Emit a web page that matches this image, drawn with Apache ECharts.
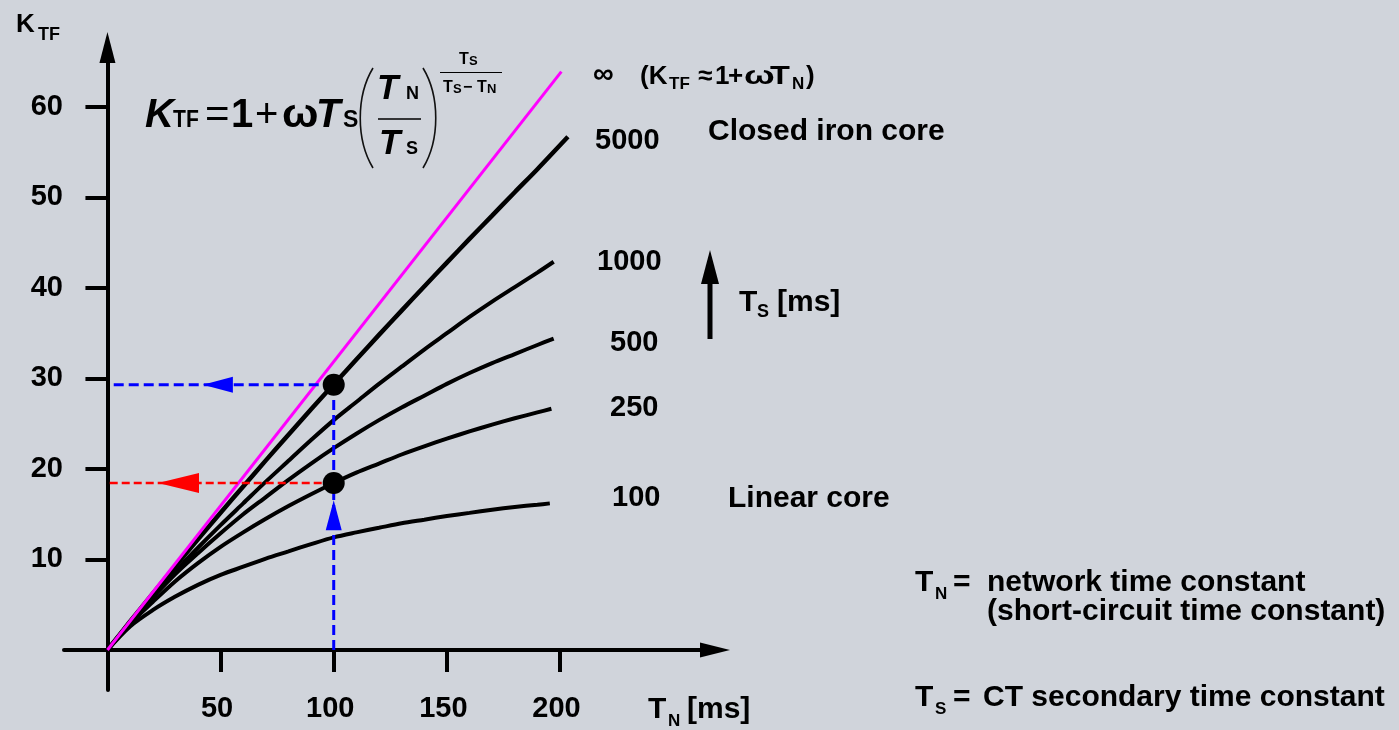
<!DOCTYPE html>
<html>
<head>
<meta charset="utf-8">
<script src="https://cdn.jsdelivr.net/npm/echarts@6/dist/echarts.min.js"></script>
<style>
html,body{margin:0;padding:0;background:#d0d4db;}
#chart{width:1399px;height:730px;}
</style>
</head>
<body>
<div id="chart"></div>
<script>
// ---- data ----
const tnValues = [0,10,20,30,40,50,60,70,80,90,100,110,120,130,140,150,160,170,180,190];
const kTs100  = [0,2.6,4.4,5.9,7.2,8.3,9.2,10.1,10.9,11.7,12.45,13.0,13.5,14.0,14.4,14.8,15.15,15.5,15.8,16.05];
const kTs250  = [0,2.9,5.3,7.6,9.6,11.4,13.0,14.5,15.9,17.2,18.45,19.6,20.6,21.6,22.5,23.35,24.15,24.9,25.6,26.25];
const kTs500  = [0,3.0,5.8,8.4,10.7,12.9,15.0,16.9,18.8,20.6,22.3,23.9,25.4,26.8,28.1,29.4,30.6,31.7,32.7,33.7];
const kTs1000 = [0,3.1,6.0,8.7,11.3,13.8,16.2,18.6,20.9,23.2,25.4,27.4,29.4,31.3,33.2,35.0,36.8,38.5,40.1,41.7];
const kTs5000 = [0,3.15,6.22,9.25,12.23,15.17,18.07,20.95,23.78,26.59,29.35,32.1,34.82,37.5,40.17,42.8,45.42,48.0,50.58,53.12];
const curveEndTn = [195.5,196.2,197.2,197.2,203.5];
const curveEndK  = [16.2,26.65,34.4,42.9,56.7];
const tsLabels = ['100','250','500','1000','5000'];
const infLineTn = [0,200.6];
const infLineK  = [0,63.9];
const xTickValues = [50,100,150,200];
const yTickValues = [10,20,30,40,50,60];
const examplePoints = [[100,29.3],[100,18.45]];   // black dots
const readTn = 100;

const FONT = '"Liberation Sans", Arial, Helvetica, sans-serif';

function curve(vals, i){
  const d = tnValues.map((t,j)=>[t, vals[j]]);
  d.push([curveEndTn[i], curveEndK[i]]);
  return d;
}
function txt(s, x, base, size, opt){
  opt = opt || {};
  const el = {type:'text', x:x, y: base - 0.31*size, silent:true, z:100,
    style:{text:s, font:(opt.italic?'italic ':'') + (opt.weight||'bold') + ' ' + size + 'px ' + FONT,
      fill: opt.fill||'#000', align:'left', verticalAlign:'middle', textAlign:'left', textVerticalAlign:'middle'}};
  if (opt.sx) el.scaleX = opt.sx;
  return el;
}

const black = [kTs100,kTs250,kTs500,kTs1000,kTs5000];
const series = black.map((v,i)=>({
  type:'line', name:'Ts '+tsLabels[i], data: curve(v,i), smooth:0.3, showSymbol:false,
  lineStyle:{color:'#000', width: i===4 ? 4.5 : 4, cap:'butt'}, z:2
}));
series.push({type:'line', name:'inf', data: infLineTn.map((t,j)=>[t, infLineK[j]]), showSymbol:false,
  lineStyle:{color:'#ff00ff', width:3}, z:3});
// dashed read-off lines
series.push({type:'line', data:[[readTn,0],[readTn,examplePoints[0][1]]], showSymbol:false,
  lineStyle:{color:'#0000ff', width:3, type:[10,5]}, z:4});
series.push({type:'line', data:[[readTn,examplePoints[0][1]],[1.4,examplePoints[0][1]]], showSymbol:false,
  lineStyle:{color:'#0000ff', width:3, type:[10,5]}, z:4});
series.push({type:'line', data:[[readTn,examplePoints[1][1]],[0,examplePoints[1][1]]], showSymbol:false,
  lineStyle:{color:'#ff0000', width:2.5, type:[8,4]}, z:4});
// arrow heads
series.push({type:'scatter', data:[[48.8,examplePoints[0][1]]], symbol:'triangle', symbolSize:[16,30], symbolRotate:90,
  itemStyle:{color:'#0000ff', opacity:1}, z:5, silent:true});
series.push({type:'scatter', data:[[31.4,examplePoints[1][1]]], symbol:'triangle', symbolSize:[20,41], symbolRotate:90,
  itemStyle:{color:'#ff0000', opacity:1}, z:5, silent:true});
series.push({type:'scatter', data:[[readTn,14.9]], symbol:'triangle', symbolSize:[16,30],
  itemStyle:{color:'#0000ff', opacity:1}, z:5, silent:true});
// dots
series.push({type:'scatter', data:examplePoints, symbol:'circle', symbolSize:22,
  itemStyle:{color:'#000', opacity:1}, z:6, silent:true});

const g = [];
// axis titles
g.push(txt('K',16,33,26)); g.push(txt('TF',38,41,18));
g.push(txt('T',648,719,30)); g.push(txt('N',668,727,17)); g.push(txt('[ms]',687,719,30));
// formula
g.push(txt('K',145,128,40,{italic:true}));
g.push(txt('TF',173,128,24,{sx:0.88}));
g.push(txt('=',205,128,40,{weight:'normal', sx:1.05}));
g.push(txt('1',231,128,40));
g.push(txt('+',255,128,40,{weight:'normal'}));
g.push(txt('ω',282,128,40,{sx:1.08}));
g.push(txt('T',316,128,40,{italic:true}));
g.push(txt('S',343,128,23));
g.push(txt('T',377,100,35,{italic:true}));
g.push(txt('N',406,100,18));
g.push(txt('T',379,155,35,{italic:true}));
g.push(txt('S',406,155,18));
g.push({type:'line', shape:{x1:378,y1:119,x2:421,y2:119}, style:{stroke:'#000',lineWidth:1.5}, silent:true});
g.push({type:'bezierCurve', shape:{x1:373,y1:68,x2:373,y2:168,cpx1:356,cpy1:96,cpx2:356,cpy2:140}, style:{stroke:'#111',lineWidth:1.6,fill:null}, silent:true});
g.push({type:'bezierCurve', shape:{x1:423,y1:68,x2:423,y2:168,cpx1:440,cpy1:96,cpx2:440,cpy2:140}, style:{stroke:'#111',lineWidth:1.6,fill:null}, silent:true});
g.push(txt('T',459,65,16)); g.push(txt('S',469,65,13));
g.push({type:'line', shape:{x1:440,y1:72.5,x2:502,y2:72.5}, style:{stroke:'#000',lineWidth:1}, silent:true});
g.push(txt('T',443,93,16)); g.push(txt('S',453,93,13)); g.push(txt('−',463,93,16));
g.push(txt('T',477,93,16)); g.push(txt('N',487,93,13));
// infinity label
g.push(txt('∞',593,84,29));
g.push(txt('(K',640,85,26));
g.push(txt('TF',669,90,17));
g.push(txt('≈',698,85,26));
g.push(txt('1',715,85,26));
g.push(txt('+',728,85,26));
g.push(txt('ω',744,85,26,{sx:1.4}));
g.push(txt('T',770,85,26,{sx:1.25}));
g.push(txt('N',792,90,17));
g.push(txt(')',806,85,26));
// curve labels
g.push(txt(tsLabels[4],595,150,29));
g.push(txt('Closed iron core',708,141,30));
g.push(txt(tsLabels[3],597,271,29));
g.push(txt(tsLabels[2],610,352,29));
g.push(txt(tsLabels[1],610,417,29));
g.push(txt(tsLabels[0],612,507,29));
g.push(txt('Linear core',728,508,30));
// Ts arrow
g.push({type:'line', shape:{x1:710,y1:280,x2:710,y2:339}, style:{stroke:'#000',lineWidth:5}, silent:true});
g.push({type:'polygon', shape:{points:[[710,250],[701,284],[719,284]]}, style:{fill:'#000'}, silent:true});
g.push(txt('T',739,312,30)); g.push(txt('S',757,318,18)); g.push(txt('[ms]',777,312,30));
// definitions
g.push(txt('T',915,592,30)); g.push(txt('N',935,600,17)); g.push(txt('=',953,592,30));
g.push(txt('network time constant',987,592,30));
g.push(txt('(short-circuit time constant)',987,621,30));
g.push(txt('T',915,707,30)); g.push(txt('S',935,715,17)); g.push(txt('=',953,707,30));
g.push(txt('CT secondary time constant',983,707,30));

const chart = echarts.init(document.getElementById('chart'), null, {renderer:'canvas'});
chart.setOption({
  backgroundColor:'#d0d4db',
  animation:false,
  grid:{left:64, right:684, top:47.5, bottom:40, containLabel:false, outerBoundsMode:'none'},
  xAxis:{type:'value', min:-19.2, max:268.5,
    axisLine:{onZero:true, lineStyle:{color:'#000', width:4}, symbol:['none','triangle'], symbolSize:[15,30]},
    axisTick:{show:true, customValues:xTickValues, length:22, lineStyle:{color:'#000', width:4}},
    axisLabel:{customValues:xTickValues, margin:4, color:'#000', fontSize:29, fontWeight:'bold', fontFamily:FONT, padding:[0,7,0,0]},
    splitLine:{show:false}},
  yAxis:{type:'value', min:-4.42, max:66.57,
    axisLine:{onZero:true, lineStyle:{color:'#000', width:4}, symbol:['none','triangle'], symbolSize:[16,31]},
    axisTick:{show:true, customValues:yTickValues, length:22, lineStyle:{color:'#000', width:4}},
    axisLabel:{customValues:yTickValues, margin:1, color:'#000', fontSize:29, fontWeight:'bold', fontFamily:FONT},
    splitLine:{show:false}},
  series: series,
  graphic:{elements:g}
});
</script>
</body>
</html>
